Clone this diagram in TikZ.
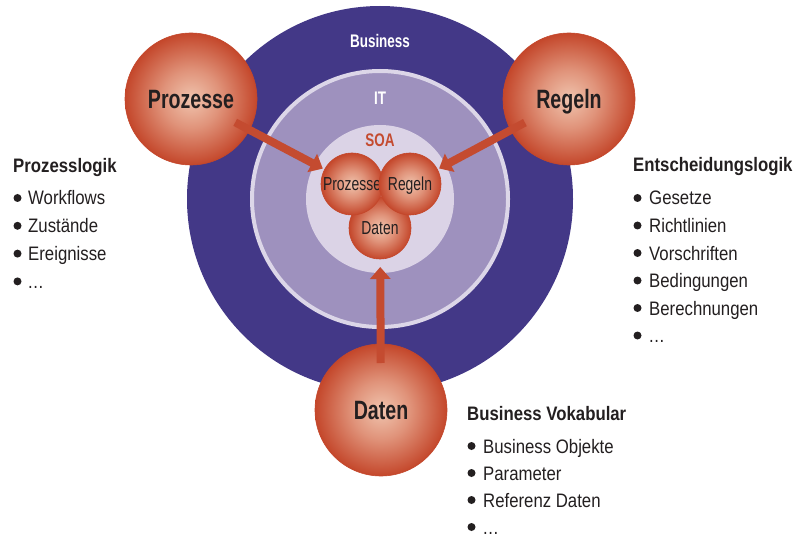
\documentclass[tikz,border=0pt]{standalone}
\usepackage{fontspec}
\setmainfont{Liberation Sans}[FakeStretch=0.86]
\newfontfamily\labelfont{Liberation Sans}[FakeStretch=0.74]
\usetikzlibrary{arrows.meta,calc}

\definecolor{bizc}{HTML}{433887}
\definecolor{itc}{HTML}{9E91BE}
\definecolor{itring}{HTML}{DCD6E8}
\definecolor{soac}{HTML}{DBD3E6}
\definecolor{arrowc}{HTML}{C44B30}
\definecolor{ink}{HTML}{231F20}
\definecolor{orbA}{HTML}{F0C4AE}
\definecolor{orbB}{HTML}{E0937A}
\definecolor{orbC}{HTML}{C4472B}

\pgfdeclareradialshading{orb}{\pgfpoint{0bp}{0bp}}{color(0bp)=(orbA); color(11bp)=(orbB); color(25bp)=(orbC); color(50bp)=(orbC)}

\tikzset{
  orbnode/.style={circle, shade, shading=orb, draw=orbC, line width=0.6pt,
    inner sep=0pt, outer sep=0pt, text=ink, text depth=0pt},
  bigorb/.style={orbnode, minimum size=132pt, text height=19pt,
    font=\labelfont\bfseries\fontsize{26.5}{28}\selectfont},
  smallorb/.style={orbnode, minimum size=62pt, text height=13.5pt,
    font=\labelfont\fontsize{18.8}{20}\selectfont},
  ringlabel/.style={anchor=base, inner sep=0pt,
    font=\labelfont\bfseries\fontsize{18.2}{20}\selectfont},
  arr/.style={draw=arrowc, line width=8pt, -{Triangle[width=20pt,length=12pt]}},
  listhead/.style={anchor=base west, inner sep=0pt, text=ink,
    font=\bfseries\fontsize{19.5}{22}\selectfont},
  listitem/.style={anchor=base west, inner sep=0pt, text=ink,
    font=\fontsize{19.5}{22}\selectfont},
  bulletdot/.style={fill=ink},
}
\newcommand{\etcdots}{.\kern0.5pt.\kern0.5pt.}

\begin{document}
\begin{tikzpicture}[x=1pt,y=-1pt]
\useasboundingbox (0,0) rectangle (803,540);
\fill[white] (0,0) rectangle (803,540);

% concentric layers: Business, IT, SOA
\fill[bizc] (380,199) circle (193);
\fill[itc] (380,199) circle (128);
\draw[itring, line width=4pt] (380,199) circle (128);
\fill[soac] (380,199) circle (74);

\node[ringlabel, text=white] (lbiz) at (380,48) {Business};
\node[ringlabel, text=white] (lit) at (380,105) {IT};
\node[ringlabel, text=arrowc] (lsoa) at (380,147) {SOA};

% large spheres outside
\node[bigorb] (P) at (191,99) {Prozesse};
\node[bigorb] (R) at (569,99) {Regeln};
\node[bigorb] (D) at (381,410) {Daten};

% small spheres inside SOA
\node[smallorb] (d) at (380,228) {Daten};
\node[smallorb] (p) at (352,184) {Prozesse};
\node[smallorb] (r) at (410,184) {Regeln};

% arrows
\draw[arr, shorten >=2pt] ($(P)!50pt!(p)$) -- (p);
\draw[arr, shorten >=2pt] ($(R)!50pt!(r)$) -- (r);
\draw[arr, shorten >=8pt] ($(D)!47pt!(d)$) -- (d);

% Prozesslogik
\node[listhead] (hl) at (13,173) {Prozesslogik};
\foreach \txt [count=\i] in {Workflows, Zustände, Ereignisse, \etcdots}{
  \pgfmathsetmacro{\yy}{205+27.8*(\i-1)}
  \fill[bulletdot] (17.5,\yy-7) circle (4);
  \node[listitem] (li\i) at (28,\yy) {\txt};
}

% Entscheidungslogik
\node[listhead] (hr) at (633,172) {Entscheidungslogik};
\foreach \txt [count=\i] in {Gesetze, Richtlinien, Vorschriften, Bedingungen, Berechnungen, \etcdots}{
  \pgfmathsetmacro{\yy}{205+27.5*(\i-1)}
  \fill[bulletdot] (637.5,\yy-7) circle (4);
  \node[listitem] (ri\i) at (649,\yy) {\txt};
}

% Business Vokabular
\node[listhead] (hb) at (467,420) {Business Vokabular};
\foreach \txt [count=\i] in {Business Objekte, Parameter, Referenz Daten, \etcdots}{
  \pgfmathsetmacro{\yy}{453+27*(\i-1)}
  \fill[bulletdot] (471.5,\yy-7) circle (4);
  \node[listitem] (bi\i) at (483,\yy) {\txt};
}
\end{tikzpicture}
\end{document}
